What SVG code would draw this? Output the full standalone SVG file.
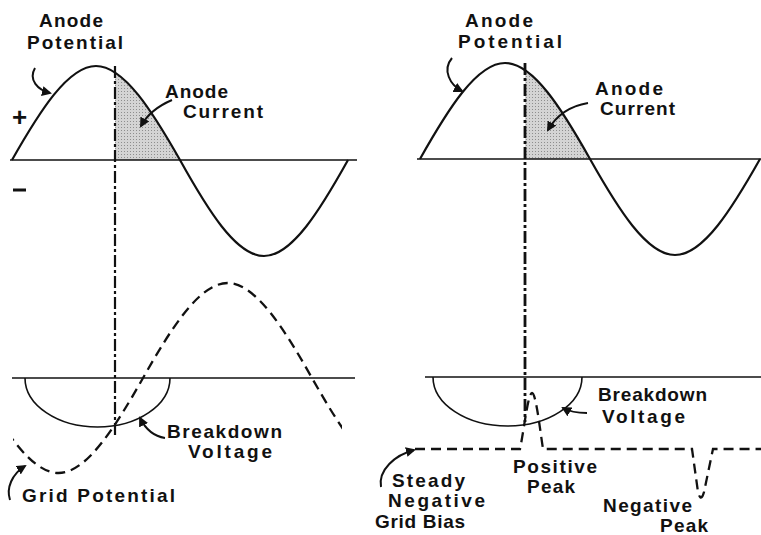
<svg xmlns="http://www.w3.org/2000/svg" width="761" height="535" viewBox="0 0 761 535">
<style>
.t{font-family:"Liberation Sans",Arial,sans-serif;font-size:19px;font-weight:bold;fill:#111}
.wave{fill:none;stroke:#111;stroke-width:2.2}
.axis{fill:none;stroke:#111;stroke-width:1.6}
.semi{fill:none;stroke:#111;stroke-width:1.6}
.dd{fill:none;stroke:#111;stroke-width:2.2;stroke-dasharray:12 3 3 3}
.dash{fill:none;stroke:#111;stroke-width:2.3;stroke-dasharray:10 6}
.arr{fill:none;stroke:#111;stroke-width:2;marker-end:url(#ah)}
</style>
<defs>
<marker id="ah" viewBox="0 0 10 10" refX="8" refY="5" markerWidth="5" markerHeight="5" orient="auto" markerUnits="strokeWidth">
<path d="M0,0 L10,5 L0,10 z" fill="#111"/>
</marker>
<pattern id="stip" width="3" height="3" patternUnits="userSpaceOnUse">
<rect width="3" height="3" fill="#d4d4d4"/>
<rect x="1" y="1" width="1" height="1" fill="#8e8e8e"/>
</pattern>
<clipPath id="clipL"><rect x="115" y="0" width="70" height="161"/></clipPath>
<clipPath id="clipR"><rect x="525" y="0" width="70" height="160"/></clipPath>
<clipPath id="clipG"><rect x="13" y="270" width="329" height="220"/></clipPath>
</defs>

<g id="left-anode">
<path d="M12,160 C39.4,111.8 68,66 96,66 C124,66 152.6,111.8 180,160 Z" fill="url(#stip)" clip-path="url(#clipL)"/>
<line class="axis" x1="10" y1="160" x2="357" y2="160"/>
<path class="wave" d="M12,160 C39.4,111.8 68,66 96,66 C124,66 152.6,111.8 180,160 C207.4,209.2 236,256 264,256 C292,256 320.6,209.2 348,160"/>
<text class="t" x="39" y="27" textLength="64" lengthAdjust="spacing">Anode</text>
<text class="t" x="27" y="49" textLength="96" lengthAdjust="spacing">Potential</text>
<text class="t" x="165" y="98" textLength="63" lengthAdjust="spacing">Anode</text>
<text class="t" x="183" y="118" textLength="80" lengthAdjust="spacing">Current</text>
<text class="t" x="12" y="126" style="font-size:26px">+</text>
<rect x="13" y="188.5" width="13" height="3" fill="#111"/>
</g>

<g id="right-anode">
<path d="M420,159 C447.7,109.8 476.7,63 505,63 C533.3,63 562.3,109.8 590,159 Z" fill="url(#stip)" clip-path="url(#clipR)"/>
<line class="axis" x1="417" y1="159" x2="761" y2="159"/>
<path class="wave" d="M420,159 C447.7,109.8 476.7,63 505,63 C533.3,63 562.3,109.8 590,159 C617.7,208.2 646.7,255 675,255 C703.3,255 732.3,208.2 760,159"/>
<text class="t" x="465" y="27" textLength="68" lengthAdjust="spacing">Anode</text>
<text class="t" x="458" y="48" textLength="104" lengthAdjust="spacing">Potential</text>
<text class="t" x="595" y="95" textLength="68" lengthAdjust="spacing">Anode</text>
<text class="t" x="600" y="115" textLength="75" lengthAdjust="spacing">Current</text>
</g>

<g id="left-grid">
<line class="axis" x1="12" y1="378" x2="355" y2="378"/>
<path class="semi" d="M25,378 A72.5,49 0 0 0 170,378"/>
<path class="dash" clip-path="url(#clipG)" d="M-26,378 C1.56,426.67 30.33,473 58.5,473 C86.67,473 115.44,426.67 143,378 C170.56,329.33 199.33,283 227.5,283 C255.67,283 284.44,329.33 312,378 C339.56,426.67 368.33,473 396.5,473"/>
<text class="t" x="167" y="438" textLength="115" lengthAdjust="spacing">Breakdown</text>
<text class="t" x="188" y="458" textLength="84" lengthAdjust="spacing">Voltage</text>
<text class="t" x="22" y="502" textLength="153" lengthAdjust="spacing">Grid Potential</text>
</g>

<g id="right-grid">
<line class="axis" x1="425" y1="377" x2="761" y2="377"/>
<path class="semi" d="M433,377 A74.5,49 0 0 0 582,377"/>
<path class="dash" d="M415,449 H520 C524,430 528,393 532,393 C536,393 540,430 543,449 H692 L698,492 Q701,503 704,492 L713,449 H761"/>
<text class="t" x="598" y="401" textLength="109" lengthAdjust="spacing">Breakdown</text>
<text class="t" x="602" y="423" textLength="83" lengthAdjust="spacing">Voltage</text>
<text class="t" x="392" y="487" textLength="73" lengthAdjust="spacing">Steady</text>
<text class="t" x="388" y="507" textLength="97" lengthAdjust="spacing">Negative</text>
<text class="t" x="375" y="528" textLength="90" lengthAdjust="spacing">Grid Bias</text>
<text class="t" x="513" y="473" textLength="84" lengthAdjust="spacing">Positive</text>
<text class="t" x="527" y="493" textLength="48" lengthAdjust="spacing">Peak</text>
<text class="t" x="603" y="512" textLength="89" lengthAdjust="spacing">Negative</text>
<text class="t" x="660" y="532" textLength="48" lengthAdjust="spacing">Peak</text>
</g>

<g id="connectors">
<line class="dd" x1="115" y1="66" x2="115" y2="436"/>
<line class="dd" x1="525" y1="63" x2="525" y2="422" style="stroke-width:2.8"/>
<path class="arr" d="M35,68 C28,80 38,90 50,93"/>
<path class="arr" d="M452,58 C442,70 450,85 462,91"/>
<path class="arr" d="M172,100 C158,106 148,113 141,126"/>
<path class="arr" d="M588,103 C570,106 556,116 548,130"/>
<path class="arr" d="M165,438 C152,436 145,428 140,418"/>
<path class="arr" d="M587,413 C578,413 570,412 563,408"/>
<path class="arr" d="M10,500 C6,488 12,474 25,466"/>
<path class="arr" d="M381,487 C378,470 395,455 414,450"/>
</g>
</svg>
